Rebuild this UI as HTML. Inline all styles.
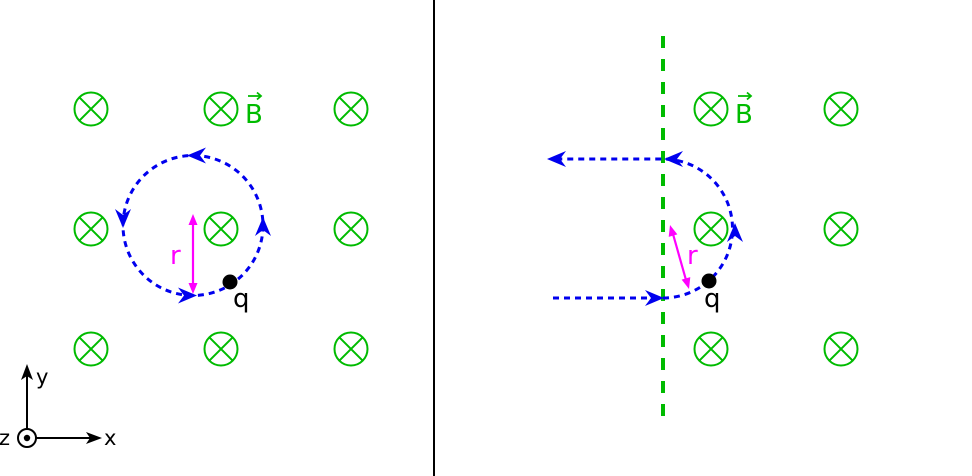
<!DOCTYPE html>
<html><head><meta charset="utf-8"><style>
html,body{margin:0;padding:0;background:#fff;}
svg{display:block;font-family:"DejaVu Sans","Liberation Sans",sans-serif;}
</style></head><body>
<svg width="972" height="476" viewBox="0 0 972 476" xmlns="http://www.w3.org/2000/svg">
<defs>
<g id="bx"><circle r="16.5" fill="none" stroke="#00bb00" stroke-width="2"/><path d="M-11.7,-11.7L11.7,11.7M11.7,-11.7L-11.7,11.7" stroke="#00bb00" stroke-width="2"/></g>
<path id="ah" d="M0,0 L-19,-8 L-13,0 L-19,8 Z" fill="#0000ee"/>
<path id="mh" d="M0,0 L-11,-4.5 L-11,4.5 Z" fill="#ff00ff"/>
</defs>
<line x1="434" y1="0" x2="434" y2="476" stroke="#000" stroke-width="2"/>
<use href="#bx" x="91" y="109"/><use href="#bx" x="221" y="109"/><use href="#bx" x="351" y="109"/>
<use href="#bx" x="91" y="229"/><use href="#bx" x="221" y="229"/><use href="#bx" x="351" y="229"/>
<use href="#bx" x="91" y="349"/><use href="#bx" x="221" y="349"/><use href="#bx" x="351" y="349"/>
<text x="245" y="123" font-size="26" fill="#00bb00">B</text>
<path d="M248,96 L261,96 M257,92.5 L261,96 L257,99.5" stroke="#00bb00" stroke-width="1.8" fill="none"/>
<circle cx="193" cy="225.5" r="70" fill="none" stroke="#0000ee" stroke-width="3" stroke-dasharray="6,5"/>
<use href="#ah" transform="translate(187,155.5) rotate(180)"/>
<use href="#ah" transform="translate(123,228) rotate(90)"/>
<use href="#ah" transform="translate(197,295.5)"/>
<use href="#ah" transform="translate(263,217) rotate(-90)"/>
<line x1="193" y1="224" x2="193" y2="284" stroke="#ff00ff" stroke-width="2.2"/>
<use href="#mh" transform="translate(193,214) rotate(-90)"/>
<use href="#mh" transform="translate(193,294) rotate(90)"/>
<text x="170" y="264" font-size="26" fill="#ff00ff">r</text>
<circle cx="230" cy="282" r="7.5" fill="#000"/>
<text x="233" y="307" font-size="26" fill="#000">q</text>
<line x1="27" y1="430" x2="27" y2="374" stroke="#000" stroke-width="2"/>
<path d="M27,364 L21,380 L27,376 L33,380 Z" fill="#000"/>
<line x1="35" y1="438" x2="92" y2="438" stroke="#000" stroke-width="2"/>
<path d="M102,438 L86,432 L90,438 L86,444 Z" fill="#000"/>
<circle cx="27" cy="438" r="9" fill="none" stroke="#000" stroke-width="2"/>
<circle cx="27" cy="438" r="3.2" fill="#000"/>
<text x="36" y="384" font-size="21" fill="#000">y</text>
<text x="104" y="445" font-size="21" fill="#000">x</text>
<text x="-1" y="445" font-size="21" fill="#000">z</text>
<use href="#bx" x="711" y="109"/><use href="#bx" x="841" y="109"/>
<use href="#bx" x="711" y="229"/><use href="#bx" x="841" y="229"/>
<use href="#bx" x="711" y="349"/><use href="#bx" x="841" y="349"/>
<text x="735" y="123" font-size="26" fill="#00bb00">B</text>
<path d="M738,96 L751,96 M747,92.5 L751,96 L747,99.5" stroke="#00bb00" stroke-width="1.8" fill="none"/>
<line x1="663" y1="36" x2="663" y2="425" stroke="#00bb00" stroke-width="4" stroke-dasharray="12,11"/>
<path d="M553,298 L663,298 A69.5,69.5 0 0 0 663,159 L558,159" fill="none" stroke="#0000ee" stroke-width="3" stroke-dasharray="6,5"/>
<use href="#ah" transform="translate(664,298)"/>
<use href="#ah" transform="translate(664,159) rotate(180)"/>
<use href="#ah" transform="translate(547,159) rotate(180)"/>
<use href="#ah" transform="translate(735,223) rotate(-90)"/>
<line x1="673" y1="234" x2="686" y2="280" stroke="#ff00ff" stroke-width="2.2"/>
<use href="#mh" transform="translate(670,225) rotate(-106)"/>
<use href="#mh" transform="translate(689,289) rotate(74)"/>
<text x="687" y="264" font-size="26" fill="#ff00ff">r</text>
<circle cx="709" cy="281" r="7.5" fill="#000"/>
<text x="704" y="307" font-size="26" fill="#000">q</text>
</svg>
</body></html>
